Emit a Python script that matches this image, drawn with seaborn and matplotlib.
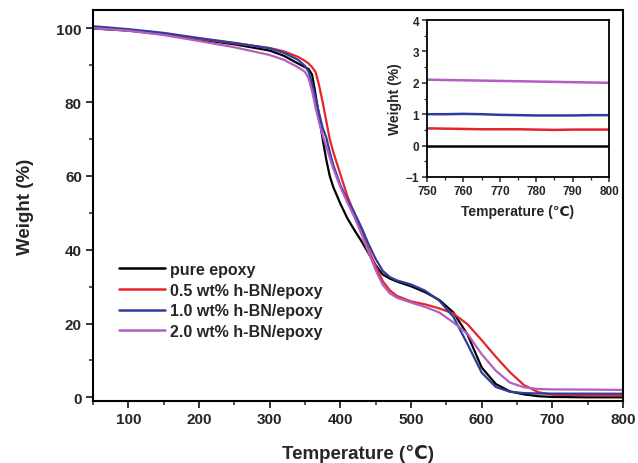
import matplotlib
matplotlib.use("Agg")
import matplotlib.pyplot as plt
from matplotlib.ticker import MultipleLocator
import seaborn as sns
import pandas as pd

# ---------------- data ----------------
temperature = [50, 100, 150, 200, 250, 300, 320, 340, 350, 355, 360, 365, 370, 375,
               380, 385, 390, 400, 410, 420, 430, 440, 450, 460, 470, 480, 500, 520,
               540, 560, 580, 600, 620, 640, 660, 680, 700, 750, 800]

pure_epoxy = [100.0, 99.4, 98.4, 97.0, 95.7, 94.0, 92.6, 90.5, 89.5, 89.0, 87.5, 82.0,
              76.0, 70.0, 64.5, 60.0, 57.0, 52.5, 48.5, 45.3, 42.3, 39.0, 35.8, 33.3,
              32.2, 31.4, 30.1, 28.5, 26.4, 23.0, 17.0, 8.1, 3.6, 1.6, 0.8, 0.3, 0.1,
              0.0, 0.0]

bn_05 = [100.0, 99.5, 98.6, 97.2, 96.0, 94.7, 93.8, 92.3, 91.2, 90.5, 89.5, 88.2,
         84.5, 80.0, 75.0, 70.0, 66.5, 60.5, 54.5, 49.8, 45.0, 40.0, 35.5, 31.5,
         29.0, 27.5, 26.0, 25.2, 24.1, 22.7, 19.8, 15.5, 11.0, 6.8, 3.3, 1.4, 0.7,
         0.55, 0.5]

bn_10 = [100.6, 99.8, 98.8, 97.4, 96.1, 94.6, 93.4, 91.5, 89.8, 88.3, 85.0, 81.0,
         77.0, 73.0, 70.5, 66.5, 63.0, 57.5, 53.5, 50.0, 46.0, 41.5, 37.5, 34.3,
         32.6, 31.7, 30.6, 28.9, 26.2, 21.8, 14.4, 6.7, 2.8, 1.5, 1.15, 1.05, 1.0,
         1.0, 0.97]

bn_20 = [100.1, 99.4, 98.2, 96.6, 94.9, 92.8, 91.5, 89.5, 88.2, 86.5, 83.0, 78.5,
         74.5, 71.0, 68.0, 65.0, 62.0, 57.0, 52.8, 48.8, 44.2, 39.3, 34.5, 30.5,
         28.2, 27.0, 25.7, 24.5, 23.0, 20.3, 17.2, 11.7, 7.2, 4.0, 2.7, 2.25, 2.15,
         2.1, 2.0]

series_names = ["pure epoxy", "0.5 wt% h-BN/epoxy", "1.0 wt% h-BN/epoxy",
                "2.0 wt% h-BN/epoxy"]
series_colors = ["#000000", "#e3262b", "#2f3d9e", "#b35fc2"]

# inset (750-800 C)
inset_temperature = [750, 755, 760, 765, 770, 775, 780, 785, 790, 795, 800]
inset_pure = [0.0, 0.0, 0.0, 0.0, 0.0, 0.0, 0.0, 0.0, 0.0, 0.0, 0.0]
inset_05 = [0.55, 0.54, 0.53, 0.52, 0.52, 0.52, 0.51, 0.50, 0.51, 0.51, 0.51]
inset_10 = [1.00, 1.00, 1.01, 1.00, 0.98, 0.97, 0.96, 0.96, 0.96, 0.97, 0.97]
inset_20 = [2.10, 2.09, 2.08, 2.07, 2.06, 2.05, 2.04, 2.03, 2.02, 2.01, 2.00]

# ---------------- build frames ----------------
main_rows = []
for name, vals in zip(series_names, [pure_epoxy, bn_05, bn_10, bn_20]):
    for t, v in zip(temperature, vals):
        main_rows.append({"Temperature": t, "Weight": v, "Sample": name})
df_main = pd.DataFrame(main_rows)

inset_rows = []
for name, vals in zip(series_names, [inset_pure, inset_05, inset_10, inset_20]):
    for t, v in zip(inset_temperature, vals):
        inset_rows.append({"Temperature": t, "Weight": v, "Sample": name})
df_inset = pd.DataFrame(inset_rows)

palette = dict(zip(series_names, series_colors))

# ---------------- style ----------------
sns.set_style("ticks")
plt.rcParams["font.family"] = ["Liberation Sans", "DejaVu Sans"]
plt.rcParams["font.weight"] = "bold"
plt.rcParams["axes.labelweight"] = "bold"

fig = plt.figure(figsize=(6.38, 4.64), dpi=100)
ax = fig.add_axes([0.1458, 0.1336, 0.8307, 0.8427])

sns.lineplot(data=df_main, x="Temperature", y="Weight", hue="Sample",
             palette=palette, hue_order=series_names, linewidth=1.6,
             sort=False, estimator=None, ax=ax)

ax.set_xlim(50, 800)
ax.set_ylim(-1, 105)
ax.xaxis.set_major_locator(MultipleLocator(100))
ax.xaxis.set_minor_locator(MultipleLocator(50))
ax.yaxis.set_major_locator(MultipleLocator(20))
ax.yaxis.set_minor_locator(MultipleLocator(10))
ax.tick_params(which="major", direction="out", length=5, width=1.3,
               labelsize=11, pad=3)
ax.tick_params(which="minor", direction="out", length=3, width=1.1)
for lab in ax.get_xticklabels() + ax.get_yticklabels():
    lab.set_fontweight("bold")
for s in ax.spines.values():
    s.set_visible(True)
    s.set_linewidth(1.5)
    s.set_color("black")
ax.set_xlabel("Temperature (\u2103)", fontsize=13.5, fontweight="bold", labelpad=13)
ax.set_ylabel("Weight (%)", fontsize=13.5, fontweight="bold", labelpad=16)

leg = ax.legend(loc="upper left", bbox_to_anchor=(0.03, 0.38), frameon=False,
                fontsize=11.5, handlelength=2.9, handletextpad=0.3,
                labelspacing=0.35, borderaxespad=0.2)
for txt in leg.get_texts():
    txt.set_fontweight("bold")
for h in leg.legend_handles:
    h.set_linewidth(1.8)

# ---------------- inset ----------------
axi = fig.add_axes([0.6693, 0.6164, 0.2853, 0.3383])
sns.lineplot(data=df_inset, x="Temperature", y="Weight", hue="Sample",
             palette=palette, hue_order=series_names, linewidth=1.8,
             sort=False, estimator=None, legend=False, ax=axi)
axi.set_xlim(750, 800)
axi.set_ylim(-1, 4)
axi.xaxis.set_major_locator(MultipleLocator(10))
axi.xaxis.set_minor_locator(MultipleLocator(5))
axi.yaxis.set_major_locator(MultipleLocator(1))
axi.yaxis.set_minor_locator(MultipleLocator(0.5))
axi.tick_params(which="major", direction="out", length=3.5, width=1.1,
                labelsize=8.5, pad=2)
axi.tick_params(which="minor", direction="out", length=2, width=0.9)
for lab in axi.get_xticklabels() + axi.get_yticklabels():
    lab.set_fontweight("bold")
for s in axi.spines.values():
    s.set_visible(True)
    s.set_linewidth(1.3)
    s.set_color("black")
axi.set_xlabel("Temperature (\u2103)", fontsize=10, fontweight="bold", labelpad=5)
axi.set_ylabel("Weight (%)", fontsize=10, fontweight="bold", labelpad=3)

fig.savefig("out.png", dpi=100)
